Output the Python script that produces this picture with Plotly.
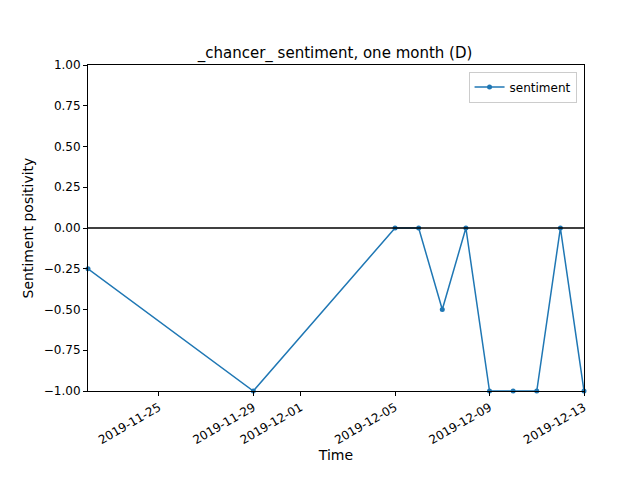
import plotly.graph_objects as go

dates = ["2019-11-22", "2019-11-29", "2019-12-05", "2019-12-06", "2019-12-07",
         "2019-12-08", "2019-12-09", "2019-12-10", "2019-12-11", "2019-12-12",
         "2019-12-13"]
sentiment = [-0.25, -1.0, 0.0, 0.0, -0.5, 0.0, -1.0, -1.0, -1.0, 0.0, -1.0]
tick_dates = ["2019-11-25", "2019-11-29", "2019-12-01", "2019-12-05", "2019-12-09", "2019-12-13"]
y_ticks = [-1.0, -0.75, -0.5, -0.25, 0.0, 0.25, 0.5, 0.75, 1.0]

fig = go.Figure()
fig.add_trace(go.Scatter(
    x=dates, y=sentiment, mode="lines+markers", name="sentiment",
    line=dict(color="#1f77b4", width=1.5), marker=dict(size=5, color="#1f77b4"),
    cliponaxis=False,
))

fig.add_shape(type="line", xref="paper", x0=0, x1=1, yref="y", y0=0, y1=0,
              line=dict(color="black", width=1.5))

axis_style = dict(showline=True, mirror=True, linecolor="black", linewidth=1,
                  ticks="outside", ticklen=4, tickcolor="black", showgrid=False,
                  zeroline=False, automargin=False,
                  tickfont=dict(size=12, color="black"))

fig.update_layout(
    width=640, height=480,
    paper_bgcolor="white", plot_bgcolor="white",
    font=dict(family="DejaVu Sans", size=12, color="black"),
    title=dict(text="_chancer_ sentiment, one month (D)", x=0.511, xanchor="center",
               y=0.895, yanchor="bottom", font=dict(size=15)),
    margin=dict(l=80, r=64, t=57, b=97),
    showlegend=True,
    legend=dict(x=0.985, y=0.98, xanchor="right", yanchor="top",
                bordercolor="#cccccc", borderwidth=1, bgcolor="white"),
    xaxis=dict(axis_style, range=["2019-11-22", "2019-12-13"],
               tickvals=tick_dates, ticktext=tick_dates, tickangle=-30,
               title=dict(text="Time", standoff=4)),
    yaxis=dict(axis_style, range=[-1, 1], tickvals=y_ticks,
               tickformat=".2f", title=dict(text="Sentiment positivity", standoff=6)),
)

fig.write_html("out.html")
